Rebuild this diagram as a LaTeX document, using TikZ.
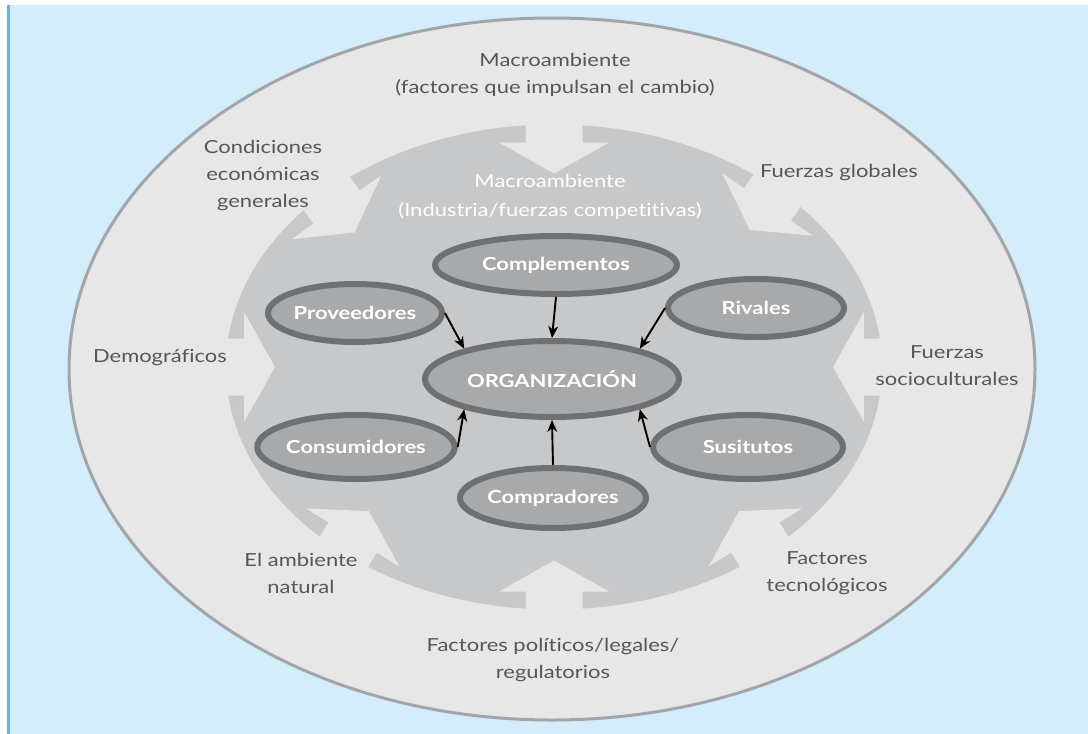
\documentclass[tikz,border=0pt]{standalone}
\usepackage{fontspec}
\setmainfont[FakeStretch=1.22,Ligatures={NoCommon}]{Lato}
\usetikzlibrary{shapes.geometric,arrows.meta}
\definecolor{skyback}{HTML}{D3EEFA}
\definecolor{edgeblue}{HTML}{5CB6E6}
\definecolor{outerfill}{HTML}{E7E7E8}
\definecolor{outerline}{HTML}{A2A6AA}
\definecolor{discgray}{HTML}{C7C8CA}
\definecolor{actorfill}{HTML}{A8A9AB}
\definecolor{ringdark}{HTML}{6F7072}
\definecolor{labelgray}{HTML}{555658}
\begin{document}
\begin{tikzpicture}[x=1pt,y=-1pt,
  outlbl/.style={align=center, text=labelgray, inner sep=0pt,
    font=\fontsize{18}{27}\selectfont},
  innlbl/.style={align=center, text=white, inner sep=0pt,
    font=\fontsize{18}{29}\selectfont},
  actor/.style={ellipse, draw=ringdark, fill=actorfill, line width=6pt,
    text=white, inner sep=0pt, font=\fontsize{18}{22}\selectfont\bfseries},
  flow/.style={black, line width=1.9pt, -{Stealth[length=12pt,width=10pt]}}]
\useasboundingbox (0,0) rectangle (1088,734);
% page background and left rule
\fill[white] (0,0) rectangle (1088,734);
\fill[skyback] (7,5) rectangle (1088,734);
\draw[edgeblue, line width=3pt] (8.5,5) -- (8.5,734);
% outer environment ellipse
\filldraw[fill=outerfill, draw=outerline, line width=3pt]
  (552,369) ellipse [x radius=483, y radius=351];
% industry disc
\fill[discgray] (554,367) ellipse [x radius=328, y radius=242.5];
% eight inward arrows cut into the disc
\foreach \t in {0,47,90,134,180,230,270,310}{
  \pgfmathsetmacro\px{554+328*cos(\t)}
  \pgfmathsetmacro\py{367-242.5*sin(\t)}
  \pgfmathsetmacro\nang{atan2(328*sin(\t),242.5*cos(\t))}
  \pgfmathsetmacro\dx{-cos(\nang)}
  \pgfmathsetmacro\dy{sin(\nang)}
  \fill[outerfill]
    ({\px-40*\dx-28.5*\dy},{\py-40*\dy+28.5*\dx}) --
    ({\px+18*\dx-28.5*\dy},{\py+18*\dy+28.5*\dx}) --
    ({\px+18*\dx-55*\dy},{\py+18*\dy+55*\dx}) --
    ({\px+49*\dx},{\py+49*\dy}) --
    ({\px+18*\dx+55*\dy},{\py+18*\dy-55*\dx}) --
    ({\px+18*\dx+28.5*\dy},{\py+18*\dy-28.5*\dx}) --
    ({\px-40*\dx+28.5*\dy},{\py-40*\dy-28.5*\dx}) -- cycle;
}
% outer labels
\node[outlbl] (macro) at (555,75) {Macroambiente\\(factores que impulsan el cambio)};
\node[outlbl] (econ) at (263,176) {Condiciones\\económicas\\generales};
\node[outlbl] (glob) at (839,173) {Fuerzas globales};
\node[outlbl] (demo) at (160,358) {Demográficos};
\node[outlbl] (socio) at (947,366) {Fuerzas\\socioculturales};
\node[outlbl] (natur) at (301,573) {El ambiente\\natural};
\node[outlbl] (tecno) at (827,573) {Factores\\tecnológicos};
\node[outlbl] (polit) at (553,660) {Factores políticos/legales/\\regulatorios};
% industry label
\node[innlbl] (indus) at (550,196.5) {Macroambiente\\(Industria/fuerzas competitivas)};
% actors
\node[actor, minimum width=242pt, minimum height=58pt] (comp) at (556,265) {Complementos};
\node[actor, minimum width=174pt, minimum height=58pt] (prov) at (355,313) {Proveedores};
\node[actor, minimum width=176pt, minimum height=58pt] (riv) at (756,308) {Rivales};
\node[actor, minimum width=254pt, minimum height=76pt] (org) at (552,379) {ORGANIZACIÓN};
\node[actor, minimum width=192pt, minimum height=64pt] (cons) at (356,447) {Consumidores};
\node[actor, minimum width=190pt, minimum height=64pt] (sus) at (748,447) {Susitutos};
\node[actor, minimum width=186pt, minimum height=60pt] (buy) at (553,498) {Compradores};
% influences on the organization
\draw[flow] (comp.south) -- (org.north);
\draw[flow] (prov.east) -- (org.161);
\draw[flow] (riv.west) -- (org.19);
\draw[flow] (cons.east) -- (org.199);
\draw[flow] (buy.north) -- (org.south);
\draw[flow] (sus.west) -- (org.341);
\end{tikzpicture}
\end{document}
